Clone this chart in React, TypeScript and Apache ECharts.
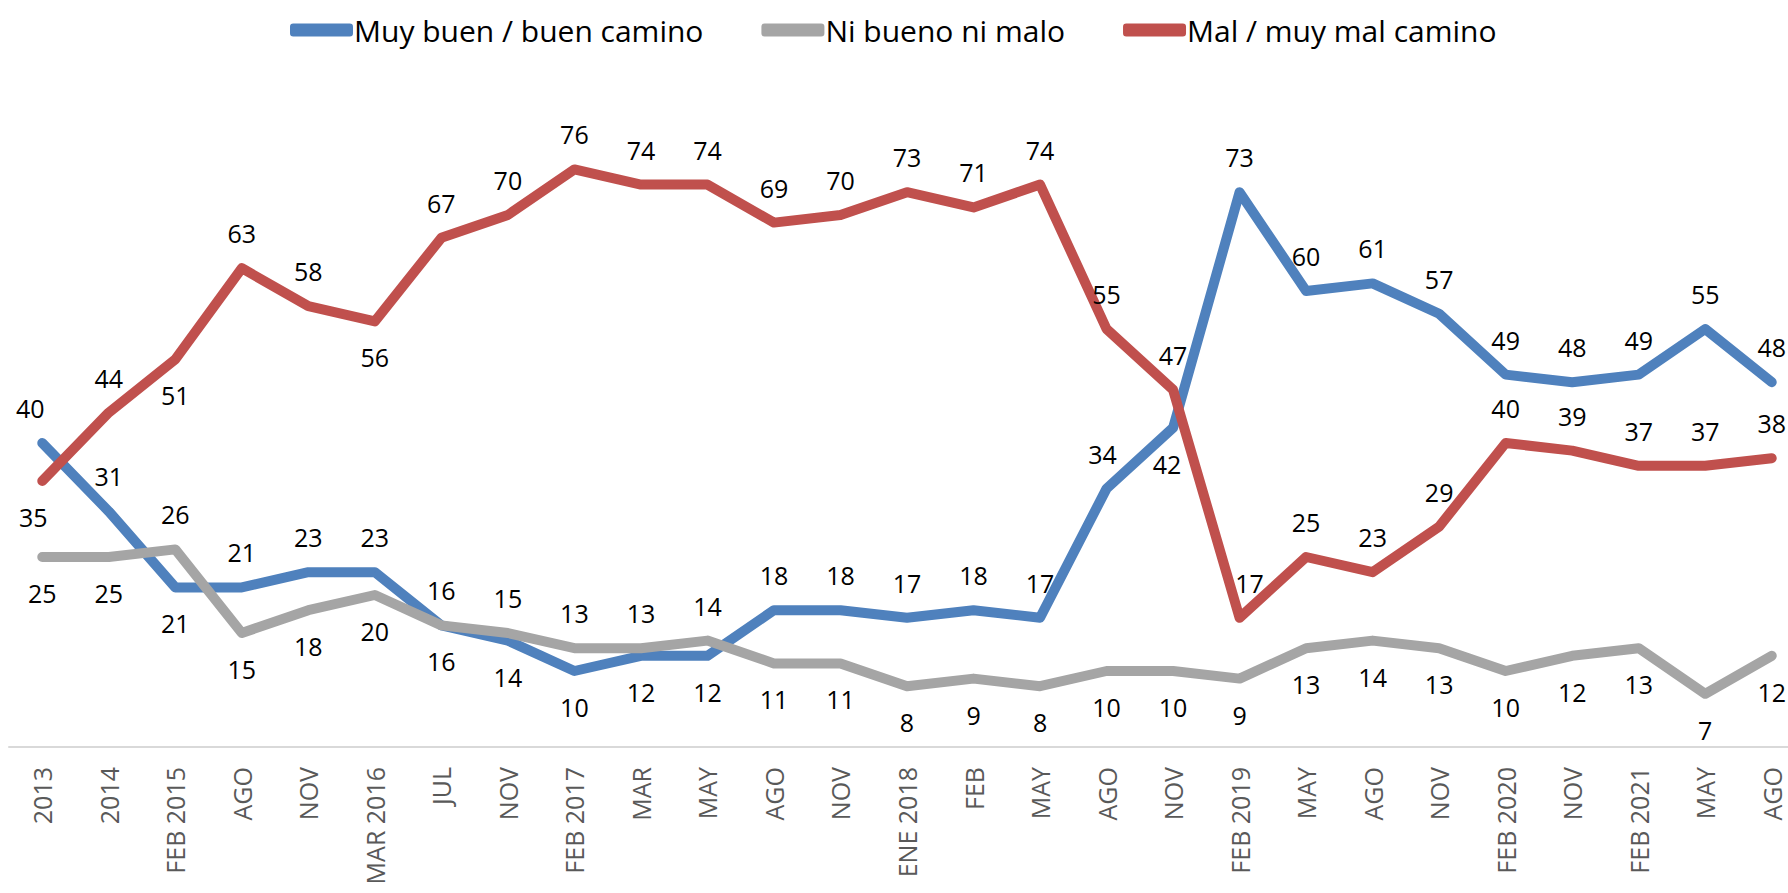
import React, { useEffect, useRef } from "react";
import * as echarts from "echarts";

const categories = [
  "2013", "2014", "FEB 2015", "AGO", "NOV", "MAR 2016", "JUL", "NOV", "FEB 2017",
  "MAR", "MAY", "AGO", "NOV", "ENE 2018", "FEB", "MAY", "AGO", "NOV", "FEB 2019",
  "MAY", "AGO", "NOV", "FEB 2020", "NOV", "FEB 2021", "MAY", "AGO",
];

const seriesNames = ["Muy buen / buen camino", "Ni bueno ni malo", "Mal / muy mal camino"];

const buenoValues = [40, 31, 21, 21, 23, 23, 16, 14, 10, 12, 12, 18, 18, 17, 18, 17, 34, 42, 73, 60, 61, 57, 49, 48, 49, 55, 48];
const neutroValues = [25, 25, 26, 15, 18, 20, 16, 15, 13, 13, 14, 11, 11, 8, 9, 8, 10, 10, 9, 13, 14, 13, 10, 12, 13, 7, 12];
const malValues = [35, 44, 51, 63, 58, 56, 67, 70, 76, 74, 74, 69, 70, 73, 71, 74, 55, 47, 17, 25, 23, 29, 40, 39, 37, 37, 38];

// label placement: t = above, b = below
const buenoLabelPos = "ttbtttt" + "bbbb" + "tttttt" + "b" + "ttttttttt";
const neutroLabelPos = "bbtbbbbtttt" + "bbbbbbbbbbbbbbbb";
const malLabelPos = "btbttb" + "ttttttttttttttttttttt";

// small horizontal nudges of individual labels (index -> px)
const buenoLabelDx: Record<number, number> = { 0: -12, 16: -4, 17: -6 };
const neutroLabelDx: Record<number, number> = {};
const malLabelDx: Record<number, number> = { 0: -9, 18: 10 };

const colors = ["#4F81BD", "#A5A5A5", "#C0504D"];

function buildData(values: number[], pos: string, dx: Record<number, number>) {
  return values.map((v, i) => {
    const top = pos[i] === "t";
    return {
      value: v,
      label: {
        position: top ? "top" : "bottom",
        distance: top ? 22 : 23,
        offset: [dx[i] || 0, 0],
      },
    };
  });
}

export default function App() {
  const ref = useRef<HTMLDivElement>(null);
  useEffect(() => {
    if (!ref.current) return;
    const chart = echarts.init(ref.current, undefined, { renderer: "svg" });
    const font = "'Open Sans', 'Noto Sans', sans-serif";
    const mk = (i: number, values: number[], pos: string, dx: Record<number, number>) => ({
      name: seriesNames[i],
      type: "line",
      data: buildData(values, pos, dx),
      symbol: "circle",
      symbolSize: 1,
      showSymbol: true,
      itemStyle: { color: colors[i] },
      lineStyle: { color: colors[i], width: 10, cap: "round", join: "round" },
      label: {
        show: true,
        color: "#000",
        fontSize: 25,
        fontFamily: font,
      },
      z: 2 + i,
    });
    chart.setOption({
      animation: false,
      backgroundColor: "#fff",
      legend: {
        top: 10,
        left: 285,
        itemWidth: 63,
        itemHeight: 13,
        itemGap: 58,
        icon: "roundRect",
        textStyle: { fontSize: 30, color: "#000", fontFamily: font, padding: [0, 0, 0, -4] },
        data: seriesNames,
      },
      grid: { left: 9, width: 1796, top: 139, bottom: 146, containLabel: false },
      xAxis: {
        type: "category",
        data: categories,
        boundaryGap: true,
        axisLine: { show: true, lineStyle: { color: "#D9D9D9", width: 2 } },
        axisTick: { show: false },
        axisLabel: {
          rotate: 90,
          interval: 0,
          margin: 20,
          fontSize: 25,
          color: "#595959",
          fontFamily: font,
        },
        splitLine: { show: false },
      },
      yAxis: {
        type: "value",
        min: 0,
        max: 80,
        show: false,
        splitLine: { show: false },
      },
      series: [
        mk(0, buenoValues, buenoLabelPos, buenoLabelDx),
        mk(1, neutroValues, neutroLabelPos, neutroLabelDx),
        mk(2, malValues, malLabelPos, malLabelDx),
      ],
    });
    return () => chart.dispose();
  }, []);
  return (
    <div
      ref={ref}
      style={{ position: "fixed", left: 0, top: 0, width: 1812, height: 893, background: "#fff" }}
    />
  );
}
